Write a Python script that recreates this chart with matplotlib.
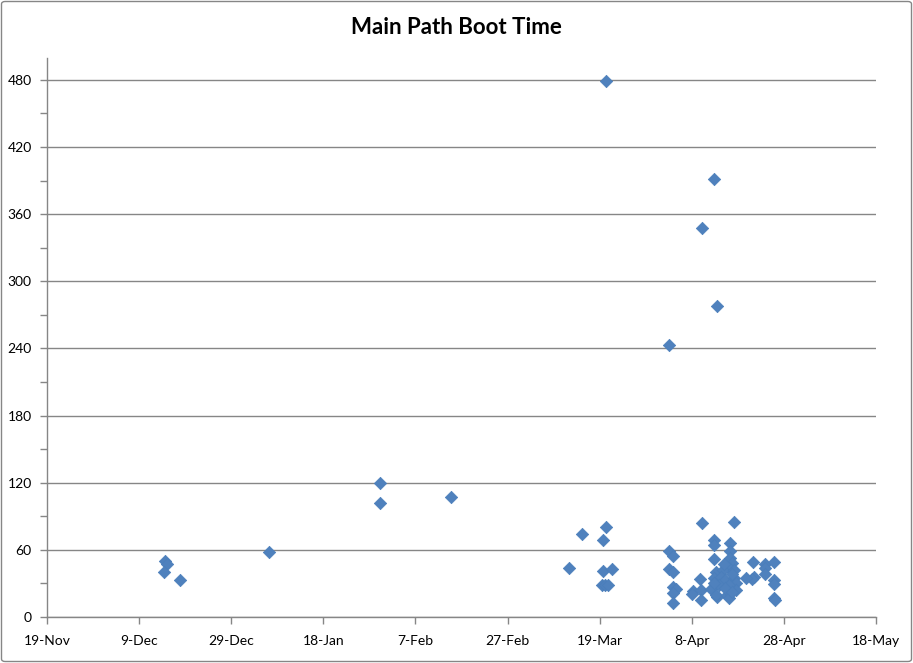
import matplotlib
matplotlib.use("Agg")
import matplotlib.pyplot as plt
from matplotlib.patches import FancyBboxPatch
from matplotlib.ticker import MultipleLocator
import datetime as dt

# Data: days elapsed since 19-Nov (start of axis), boot time values
day_offsets = [25.7, 26.0, 25.3, 28.9, 48.3, 72.2, 72.2, 87.8, 113.3, 116.2,
               121.4, 120.7, 120.7, 122.7, 120.5, 121.2, 121.8, 121.3, 135.1, 142.2,
               144.8, 145.4, 142.2, 149.2, 144.8, 144.8, 148.3, 148.3, 135.1, 135.9,
               144.8, 148.3, 148.7, 153.3, 155.9, 157.9, 155.9, 155.9, 135.1, 135.9,
               153.5, 153.0, 157.9, 157.9, 157.9, 158.1, 141.8, 140.2, 140.0, 142.1,
               142.1, 144.1, 145.4, 135.9, 136.5, 135.9, 135.9, 148.1, 145.2, 146.7,
               149.2, 144.8, 146.3, 147.3, 149.2, 149.6, 145.9, 148.1, 149.6, 145.2,
               147.7, 148.1, 151.7, 148.7, 147.2, 148.7, 144.8, 146.9]
boot_time = [50.3, 47.1, 40.0, 32.8, 57.8, 119.5, 101.6, 107.0, 44.1, 73.9,
             80.2, 69.1, 40.8, 43.2, 28.5, 29.0, 28.5, 479.0, 243.0, 348.0,
             391.0, 278.0, 83.7, 85.2, 68.8, 64.3, 66.4, 59.3, 59.3, 54.5,
             51.6, 52.5, 48.0, 48.9, 47.4, 48.9, 43.5, 38.4, 42.9, 40.0,
             35.5, 33.7, 33.1, 29.5, 16.7, 15.2, 33.7, 23.5, 20.6, 24.1,
             15.2, 24.8, 18.1, 27.1, 24.8, 21.2, 12.2, 43.5, 40.5, 42.0,
             42.0, 34.6, 36.0, 33.0, 34.6, 30.0, 28.6, 28.6, 24.0, 19.7,
             19.7, 16.7, 34.6, 38.0, 26.0, 22.0, 30.0, 47.0]
x_tick_labels = ["19-Nov", "9-Dec", "29-Dec", "18-Jan", "7-Feb", "27-Feb",
                 "19-Mar", "8-Apr", "28-Apr", "18-May"]
title = "Main Path Boot Time"

start = dt.datetime(2010, 11, 19)
dates = [start + dt.timedelta(days=d) for d in day_offsets]
tick_dates = [start + dt.timedelta(days=20 * i) for i in range(len(x_tick_labels))]

W, H = 913, 663
fig = plt.figure(figsize=(W / 100, H / 100), dpi=100)
fig.patch.set_facecolor("white")

# chart area border
border = FancyBboxPatch((1.5 / W, 1.5 / H), 1 - 3 / W, 1 - 3 / H,
                        boxstyle="round,pad=0,rounding_size=0.004",
                        transform=fig.transFigure, fill=False,
                        edgecolor="#868686", linewidth=1.0)
fig.patches.append(border)

left, right, top, bottom = 47, 876, 57.5, 617
ax = fig.add_axes([left / W, 1 - bottom / H, (right - left) / W, (bottom - top) / H])

grid_c = "#868686"
ax.scatter(dates, boot_time, marker="D", s=40, color="#4F81BD",
           edgecolors="#4A7EBB", linewidths=0.5, zorder=3)

ax.set_xlim(tick_dates[0], tick_dates[-1])
ax.set_ylim(0, 500)
ax.set_xticks(tick_dates)
ax.set_xticklabels(x_tick_labels)
ax.yaxis.set_major_locator(MultipleLocator(60))
ax.yaxis.set_minor_locator(MultipleLocator(30))
ax.set_yticks(range(0, 481, 60))
ax.grid(axis="y", which="major", color=grid_c, linewidth=1.0)
ax.set_axisbelow(True)

for s in ["top", "right"]:
    ax.spines[s].set_visible(False)
for s in ["left", "bottom"]:
    ax.spines[s].set_color(grid_c)
    ax.spines[s].set_linewidth(1.0)

font = ["Lato", "DejaVu Sans"]
ax.tick_params(axis="both", which="both", direction="out", color=grid_c,
               length=5, width=1.0, labelsize=10, labelcolor="black")
ax.tick_params(axis="x", pad=8)
ax.tick_params(axis="y", pad=6)
for lab in ax.get_xticklabels() + ax.get_yticklabels():
    lab.set_fontfamily(font)

fig.text(456 / W, 1 - 27.5 / H, title, ha="center", va="center",
         fontsize=16, fontweight="bold", family=font)

fig.savefig("out.png", dpi=100)
